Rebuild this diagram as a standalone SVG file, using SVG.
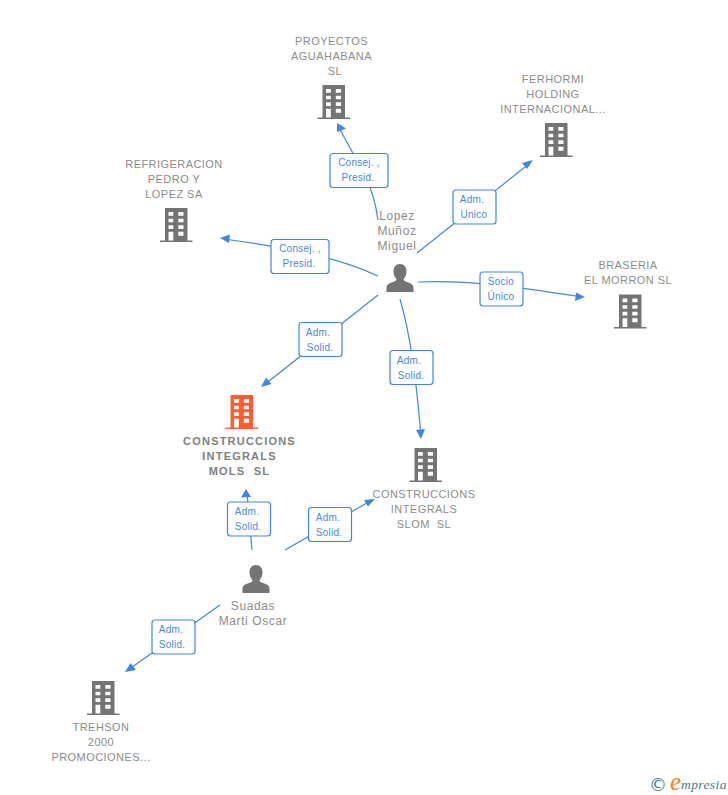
<svg xmlns="http://www.w3.org/2000/svg" width="728" height="795" viewBox="0 0 728 795">
<style>
.n{font:11px "Liberation Sans",Arial,sans-serif;fill:#8c8c8c;text-anchor:middle;letter-spacing:.45px;white-space:pre}
.b{font-weight:bold;letter-spacing:1.2px;fill:#808080}
.p{font-size:12px;letter-spacing:.6px}
.l{font:10px "Liberation Sans",Arial,sans-serif;fill:#4a88e0;text-anchor:middle;letter-spacing:.25px}
.r{fill:#fff;stroke:#4285e0;stroke-width:1.2}
.c{fill:none;stroke:#4285e0;stroke-width:1.2}
.a{fill:#4285e0}
</style>
<defs>
<symbol id="bld" viewBox="0 0 33 34" width="33" height="34" overflow="visible">
<path fill="#747474" fill-rule="evenodd" d="M5 0H27.500V32.500H32.500V34H0V32.500H5ZM8.500 4V7.700H13.300V4ZM18.300 4V7.700H23.500V4ZM8.500 10.700V14.300H13.300V10.700ZM18.300 10.700V14.300H23.500V10.700ZM8.500 17.300V21H13.300V17.300ZM18.300 17.300V21H23.500V17.300ZM8.500 23.700V32.500H13.300V23.700ZM18.300 23.700V27.700H23.500V23.700Z"/>
</symbol>
<symbol id="bldo" viewBox="0 0 33 34" width="33" height="34" overflow="visible">
<path fill="#ff5f30" fill-rule="evenodd" d="M5 0H27.500V32.500H32.500V34H0V32.500H5ZM8.500 4V7.700H13.300V4ZM18.300 4V7.700H23.500V4ZM8.500 10.700V14.300H13.300V10.700ZM18.300 10.700V14.300H23.500V10.700ZM8.500 17.300V21H13.300V17.300ZM18.300 17.300V21H23.500V17.300ZM8.500 23.700V32.500H13.300V23.700ZM18.300 23.700V27.700H23.500V23.700Z"/>
</symbol>
<symbol id="per" viewBox="0 0 28 28" width="28" height="28" overflow="visible">
<path fill="#747474" d="M14 0C18.200 0 20.500 3.200 20.500 7.500C20.500 11 19 13.500 17.500 15C17.500 16.500 18.500 17.300 21 18C25 19.200 27.500 20.500 27.500 24V28H.5V24C.5 20.500 3 19.200 7 18C9.500 17.300 10.500 16.500 10.500 15C9 13.500 7.500 11 7.500 7.500C7.500 3.200 9.800 0 14 0Z"/>
</symbol>
</defs>
<g id="connectors">
<path class="c" d="M378 220C376 205 372 190 365 175L338 126"/><path class="a" d="M337 123L346 128.500L337 132Z"/>
<path class="c" d="M417 253L530 163"/><path class="a" d="M533 160L527 169L522 163Z"/>
<path class="c" d="M378 276C340 258 290 248 224 239"/><path class="a" d="M220 238L230 234.500L229 243Z"/>
<path class="c" d="M418 282C470 280 510 286 582 297"/><path class="a" d="M585 297L575 301L576 292.500Z"/>
<path class="c" d="M378 295L264 385"/><path class="a" d="M261 387L266 377.500L271.500 384Z"/>
<path class="c" d="M400 299C412 340 417 390 421 436"/><path class="a" d="M421 439L416 430L425 429Z"/>
<path class="c" d="M252 550L247 493"/><path class="a" d="M246 489L251 497L241 497.500Z"/>
<path class="c" d="M285 550L372 500"/><path class="a" d="M375 499L368 506.500L364 500Z"/>
<path class="c" d="M220 605L128 670"/><path class="a" d="M125 672L130.500 663L136 670Z"/>
</g>
<g id="edge-labels">
<g><rect class="r" x="330" y="153.500" width="58" height="34" rx="3"/><text class="l" x="359" y="166">Consej. ,</text><text class="l" x="358" y="181">Presid.</text></g>
<g><rect class="r" x="453" y="190" width="43" height="34" rx="3"/><text class="l" x="472" y="203">Adm.</text><text class="l" x="474" y="218">Unico</text></g>
<g><rect class="r" x="271" y="239.500" width="58" height="34" rx="3"/><text class="l" x="300" y="252">Consej. ,</text><text class="l" x="299" y="267">Presid.</text></g>
<g><rect class="r" x="480" y="272" width="43" height="34" rx="3"/><text class="l" x="501" y="285">Socio</text><text class="l" x="501" y="300">Único</text></g>
<g><rect class="r" x="299" y="322.500" width="43" height="34" rx="3"/><text class="l" x="318" y="336">Adm.</text><text class="l" x="320" y="351">Solid.</text></g>
<g><rect class="r" x="390" y="350.500" width="43" height="34" rx="3"/><text class="l" x="409" y="364">Adm.</text><text class="l" x="411" y="379">Solid.</text></g>
<g><rect class="r" x="227.500" y="502" width="43" height="34" rx="3"/><text class="l" x="247" y="515">Adm.</text><text class="l" x="248" y="530">Solid.</text></g>
<g><rect class="r" x="308.500" y="507.500" width="43" height="34" rx="3"/><text class="l" x="328" y="521">Adm.</text><text class="l" x="329" y="536">Solid.</text></g>
<g><rect class="r" x="152" y="620" width="43" height="34" rx="3"/><text class="l" x="171" y="633">Adm.</text><text class="l" x="172" y="648">Solid.</text></g>
</g>
<g id="n-proyectos"><use href="#bld" x="317.500" y="85"/><text class="n" x="331.500" y="45">PROYECTOS</text><text class="n" x="331.500" y="60">AGUAHABANA</text><text class="n" x="335" y="75">SL</text></g>
<g id="n-ferhormi"><use href="#bld" x="540" y="123"/><text class="n" x="553" y="83">FERHORMI</text><text class="n" x="553" y="98">HOLDING</text><text class="n" x="553" y="113">INTERNACIONAL...</text></g>
<g id="n-refrigeracion"><use href="#bld" x="160" y="208"/><text class="n" x="174" y="168">REFRIGERACION</text><text class="n" x="174" y="183">PEDRO Y</text><text class="n" x="174" y="198">LOPEZ SA</text></g>
<g id="n-braseria"><use href="#bld" x="614" y="294.500"/><text class="n" x="628" y="269">BRASERIA</text><text class="n" x="628" y="284">EL MORRON SL</text></g>
<g id="n-mols"><use href="#bldo" x="225.500" y="395"/><text class="n b" x="239.500" y="445">CONSTRUCCIONS</text><text class="n b" x="239.500" y="460">INTEGRALS</text><text class="n b" x="239.500" y="475">MOLS  SL</text></g>
<g id="n-slom"><use href="#bld" x="409.500" y="448"/><text class="n" x="424" y="498">CONSTRUCCIONS</text><text class="n" x="424" y="513">INTEGRALS</text><text class="n" x="424" y="528">SLOM  SL</text></g>
<g id="n-trehson"><use href="#bld" x="87" y="681"/><text class="n" x="101" y="731">TREHSON</text><text class="n" x="101" y="746">2000</text><text class="n" x="101" y="761">PROMOCIONES...</text></g>
<g id="n-lopez"><use href="#per" x="386" y="264"/><text class="n p" x="397" y="220">Lopez</text><text class="n p" x="397" y="235">Muñoz</text><text class="n p" x="397" y="250">Miguel</text></g>
<g id="n-suadas"><use href="#per" x="242" y="565"/><text class="n p" x="253" y="610">Suadas</text><text class="n p" x="253" y="625">Marti Oscar</text></g>
<g id="logo"><text x="658" y="791" font-family="'DejaVu Sans',sans-serif" font-size="18" fill="#3d7a96" text-anchor="middle">©</text><text x="670" y="790" font-family="'Liberation Serif',serif" font-style="italic" font-size="25" fill="#f58220">e</text><text x="681" y="789" font-family="'Liberation Serif',serif" font-style="italic" font-size="13.500" fill="#3d7a96" letter-spacing=".4">mpresia</text></g>
</svg>
